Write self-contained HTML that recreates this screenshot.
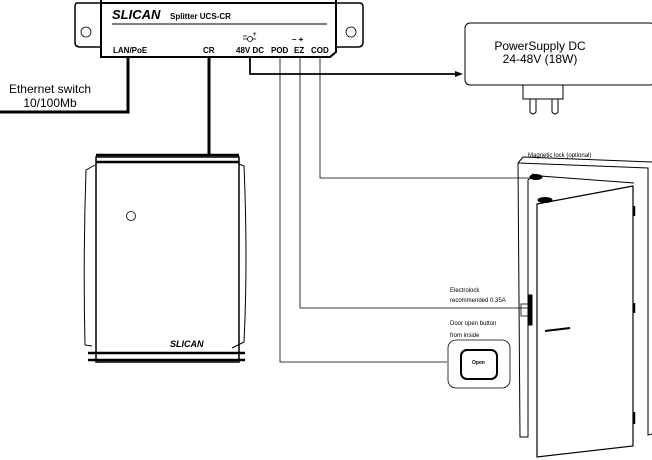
<!DOCTYPE html>
<html><head><style>body{margin:0;background:#fff}svg{display:block}</style></head><body>
<svg width="652" height="460" viewBox="0 0 652 460" xmlns="http://www.w3.org/2000/svg" font-family="Liberation Sans, sans-serif">
<g fill="none" stroke="#000">
<!-- splitter -->
<path d="M101 3 H77 Q75 3 75 7 V42 Q75 47 80 47 H101" stroke-width="1.5"/>
<path d="M336 3 H360 Q363 3 363 7 V42 Q363 47 358 47 H336" stroke-width="1.5"/>
<path d="M101 0 V57 H330 L336 52 V0" stroke-width="2"/>
<path d="M101 3 H336" stroke-width="2"/>
<circle cx="86" cy="32" r="5" stroke-width="0.8"/>
<circle cx="351" cy="32" r="5" stroke-width="0.8"/>
<line x1="112" y1="24" x2="327" y2="24" stroke-width="1"/>
<circle cx="250" cy="39" r="2.5" stroke-width="0.8"/>
<path d="M243 39 H247.5 M252.5 39 H256 M243 36 H247" stroke-width="0.7"/>
<!-- wires -->
<path d="M128 57 V112 H0" stroke-width="3"/>
<path d="M209 57 V155" stroke-width="3"/>
<path d="M250 57 V74 H455" stroke-width="1.8"/>
<path d="M280 57 V362 H447" stroke-width="0.8"/>
<path d="M300 57 V308 H528" stroke-width="0.8"/>
<path d="M320 57 V178 H530" stroke-width="0.8"/>
<!-- power supply -->
<rect x="465" y="23" width="190" height="62" rx="5" stroke-width="1"/>
<path d="M523 85 V99 H563 V85" stroke-width="1"/>
<path d="M530 99 V112 Q533 116 536 112 V99 M552 99 V112 Q555 116 558 112 V99" stroke-width="1"/>
<!-- reader -->
<path d="M96 157 H239 V362 H96 Z" stroke-width="1.5"/>
<path d="M96 155 H239 M96 162 H239 M88 353 H245 M88 360 H245" stroke-width="2.5"/>
<path d="M95 165 L86 170 Q83 260 85 345 L92 346" stroke-width="1"/>
<path d="M239 164 L244 166 Q248 260 244 342 L232 348" stroke-width="1"/>
<circle cx="131" cy="216" r="4.5" stroke-width="0.8"/>
<!-- door -->
<path d="M518 163 L520 437 H528 V180 L531 178" stroke-width="1"/>
<path d="M518 163 L523 157 L652 162 M518 163 L648 168 V435 L652 434" stroke-width="1"/>
<path d="M537 204 L633 186 V446 L537 457 Z" stroke-width="1.2"/>
<path d="M532 174 L540 176 L634 183" stroke-width="1"/>
<ellipse cx="536" cy="177" rx="6" ry="2.5" fill="#000"/>
<ellipse cx="545" cy="200" rx="7" ry="2.5" fill="#000"/>
<rect x="521" y="304" width="7" height="12" stroke-width="0.8"/>
<rect x="528" y="295" width="4" height="30" fill="#000"/>
<path d="M545 331 L570 328" stroke-width="2"/>
<path d="M634 206 V216 M634 303 V313 M634 412 V424" stroke-width="2.5"/>
<!-- button -->
<rect x="448" y="340" width="62" height="48" rx="8" stroke-width="0.8"/>
<rect x="461" y="350" width="36" height="29" rx="6" stroke-width="2"/>
</g>
<path d="M455 71 L463 74 L455 77 Z" fill="#000"/>
<g font-weight="bold" font-size="8">
<text x="112" y="19" font-size="13" font-style="italic" font-weight="900">SLICAN</text>
<text x="170" y="19" font-size="8">Splitter UCS-CR</text>
<text x="113" y="53">LAN/PoE</text>
<text x="203" y="53">CR</text>
<text x="236" y="53">48V DC</text>
<text x="271" y="53">POD</text>
<text x="294" y="53">EZ</text>
<text x="311" y="53">COD</text>
<text x="292" y="42">–  +</text>
<text x="253" y="36" font-size="6">+</text>
<text x="170" y="347" font-size="9" font-style="italic" font-weight="900">SLICAN</text>
<text x="472" y="364" font-size="5">Open</text>
</g>
<g font-size="12" text-anchor="middle">
<text x="50" y="93">Ethernet switch</text>
<text x="50" y="107">10/100Mb</text>
<text x="540" y="50">PowerSupply DC</text>
<text x="540" y="63">24-48V (18W)</text>
</g>
<g font-size="6">
<text x="528" y="157">Magnetic lock (optional)</text>
<text x="450" y="292">Electrolock</text>
<text x="450" y="302">recommended 0.35A</text>
<text x="450" y="325">Door open button</text>
<text x="450" y="337">from inside</text>
</g>
</svg>
</body></html>
